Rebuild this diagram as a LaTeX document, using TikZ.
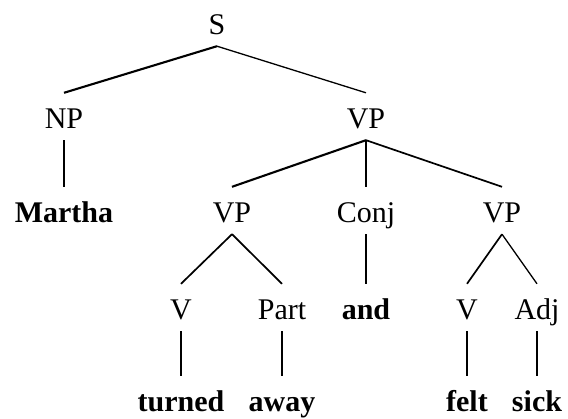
\documentclass[tikz,border=0pt]{standalone}
\usepackage{fontspec}
\setmainfont{Liberation Serif}
\begin{document}
\begin{tikzpicture}[x=1pt,y=-1pt,
  lab/.style={anchor=base,inner sep=0pt,text height=36pt,text depth=11pt,font=\fontsize{30}{36}\selectfont},
  word/.style={lab,font=\fontsize{30}{36}\selectfont\bfseries},
  edge/.style={line width=1.3pt},
  thick edge/.style={line width=2.1pt},
  mid edge/.style={line width=1.7pt}]
\useasboundingbox (0,0) rectangle (568,419);
% row 1
\node[lab] (S) at (217,35) {S};
% row 2
\node[lab] (NP) at (64,129) {NP};
\node[lab] (VP) at (366,129) {VP};
% row 3
\node[word] (Martha) at (64,223) {Martha};
\node[lab] (VPa) at (232,223) {VP};
\node[lab] (Conj) at (366,223) {Conj};
\node[lab] (VPb) at (502,223) {VP};
% row 4
\node[lab] (V1) at (181,320) {V};
\node[lab] (Part) at (282,320) {Part};
\node[word] (and) at (366,320) {and};
\node[lab] (V2) at (467,320) {V};
\node[lab] (Adj) at (537,320) {Adj};
% row 5
\node[word] (turned) at (181,412) {turned};
\node[word] (away) at (282,412) {away};
\node[word] (felt) at (467,412) {felt};
\node[word] (sick) at (537,412) {sick};
% connectors
\draw[thick edge] (S.south) -- (NP.north);
\draw[edge] (S.south) -- (VP.north);
\draw[edge] (NP.south) -- (Martha.north);
\draw[thick edge] (VP.south) -- (VPa.north);
\draw[edge] (VP.south) -- (Conj.north);
\draw[mid edge] (VP.south) -- (VPb.north);
\draw[mid edge] (VPa.south) -- (V1.north);
\draw[mid edge] (VPa.south) -- (Part.north);
\draw[edge] (Conj.south) -- (and.north);
\draw[mid edge] (VPb.south) -- (V2.north);
\draw[edge] (VPb.south) -- (Adj.north);
\draw[edge] (V1.south) -- (turned.north);
\draw[edge] (Part.south) -- (away.north);
\draw[edge] (V2.south) -- (felt.north);
\draw[edge] (Adj.south) -- (sick.north);
\end{tikzpicture}
\end{document}
